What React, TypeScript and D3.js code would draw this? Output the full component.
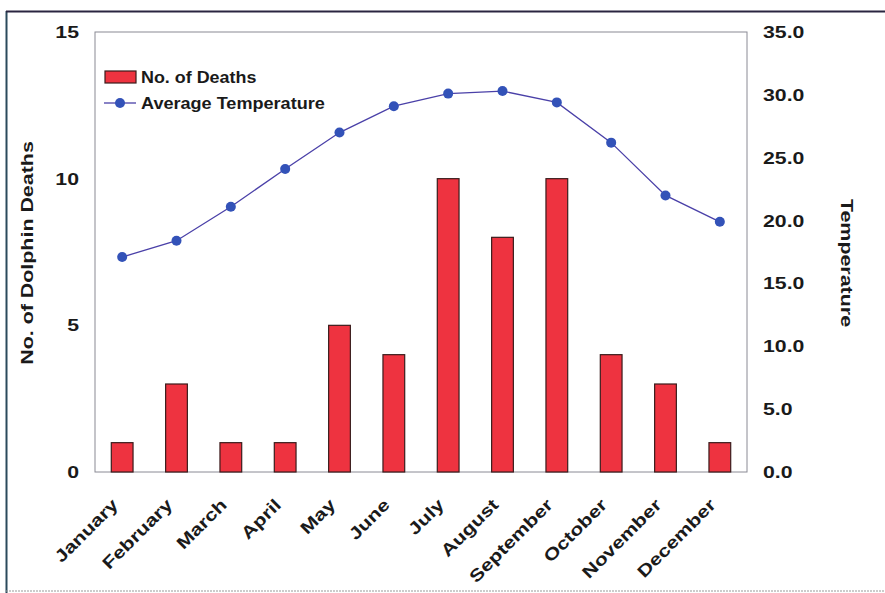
import React from "react";
import * as d3 from "d3";

const months = ["January","February","March","April","May","June","July","August","September","October","November","December"];
const deaths = [1, 3, 1, 1, 5, 4, 10, 8, 10, 4, 3, 1];
const temps = [17.1, 18.4, 21.1, 24.1, 27.0, 29.1, 30.1, 30.3, 29.4, 26.2, 22.0, 19.9];
const leftTicks = [0, 5, 10, 15];
const rightTicks = [0, 5, 10, 15, 20, 25, 30, 35];

const W = 885, H = 593;
const plot = { left: 95, right: 747, top: 32, bottom: 472 };
const FONT = "'Liberation Sans', Arial, sans-serif";
const INK = "#1a1a1a";

export default function App() {
  const x = d3.scaleBand<string>().domain(months).range([plot.left, plot.right]).paddingInner(0.6).paddingOuter(0.3);
  const yL = d3.scaleLinear().domain([0, 15]).range([plot.bottom, plot.top]);
  const yR = d3.scaleLinear().domain([0, 35]).range([plot.bottom, plot.top]);
  const cx = (m: string) => (x(m) as number) + x.bandwidth() / 2;
  const line = d3.line<number>().x((_, i) => cx(months[i])).y((d) => yR(d));

  return (
    <svg width={W} height={H} style={{ position: "absolute", left: 0, top: 0, background: "#fff" }} fontFamily={FONT}>
      {/* outer frame */}
      <line x1={6.5} y1={11} x2={6.5} y2={593} stroke="#2b4a5c" strokeWidth={2} />
      <line x1={6} y1={11.5} x2={885} y2={11.5} stroke="#2a2540" strokeWidth={2} />
      <line x1={6} y1={591} x2={885} y2={591} stroke="#999" strokeWidth={1} strokeDasharray="2,1" />

      {/* plot area */}
      <rect x={plot.left} y={plot.top} width={plot.right - plot.left} height={plot.bottom - plot.top} fill="none" stroke="#8a8a94" strokeWidth={1} />

      {/* bars */}
      {deaths.map((d, i) => (
        <rect key={i} x={x(months[i])} y={yL(d)} width={x.bandwidth()} height={plot.bottom - yL(d)}
          fill="#ee3340" stroke="#3a1c1c" strokeWidth={1.2} />
      ))}

      {/* temperature line */}
      <path d={line(temps) || ""} fill="none" stroke="#4a40a8" strokeWidth={1.3} />
      {temps.map((t, i) => (
        <circle key={i} cx={cx(months[i])} cy={yR(t)} r={5} fill="#3352b8" />
      ))}

      {/* left ticks */}
      {leftTicks.map((t) => (
        <text key={t} transform={`translate(79 ${yL(t) + 6}) scale(1.25 1)`} textAnchor="end" fontSize={17} fontWeight="bold" fill={INK}>{t}</text>
      ))}
      {/* right ticks */}
      {rightTicks.map((t) => (
        <text key={t} transform={`translate(763 ${yR(t) + 6}) scale(1.25 1)`} textAnchor="start" fontSize={17} fontWeight="bold" fill={INK}>{t.toFixed(1)}</text>
      ))}

      {/* month labels */}
      {months.map((m) => {
        const ax = cx(m) - 3, ay = 506;
        return (
          <text key={m} transform={`translate(${ax} ${ay}) rotate(-45) scale(1.25 1)`} textAnchor="end" fontSize={17} fontWeight="bold" fill={INK}>{m}</text>
        );
      })}

      {/* axis titles */}
      <text transform={`translate(33 253) rotate(-90) scale(1.26 1)`} textAnchor="middle" fontSize={17} fontWeight="bold" fill={INK}>No. of Dolphin Deaths</text>
      <text transform={`translate(841 263) rotate(90) scale(1.26 1)`} textAnchor="middle" fontSize={17} fontWeight="bold" fill={INK}>Temperature</text>

      {/* legend */}
      <rect x={105} y={71} width={31} height={12} fill="#ee3340" stroke="#3a1c1c" strokeWidth={1.2} />
      <text transform="translate(141 83) scale(1.12 1)" fontSize={16} fontWeight="bold" fill={INK}>No. of Deaths</text>
      <line x1={104} y1={103} x2={136} y2={103} stroke="#4a40a8" strokeWidth={1.3} />
      <circle cx={120} cy={103} r={5} fill="#3352b8" />
      <text transform="translate(141 109) scale(1.13 1)" fontSize={16} fontWeight="bold" fill={INK}>Average Temperature</text>
    </svg>
  );
}
